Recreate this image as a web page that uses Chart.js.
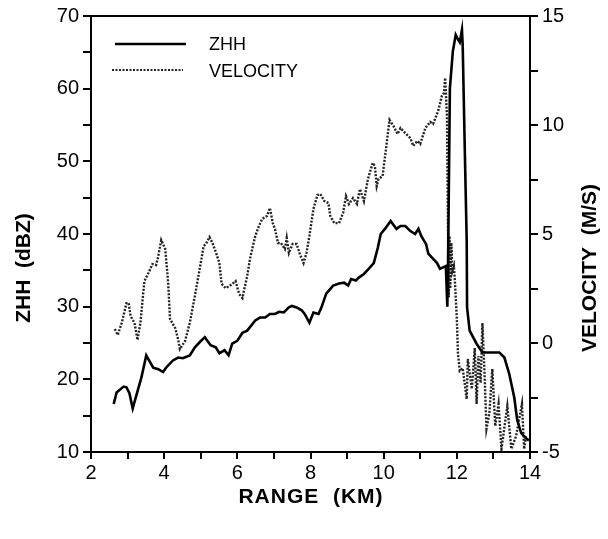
<!DOCTYPE html>
<html>
<head>
<meta charset="utf-8">
<script src="https://cdn.jsdelivr.net/npm/chart.js@4"></script>
<style>
  html, body { margin: 0; padding: 0; background: #fff; }
  #wrap { width: 608px; height: 539px; }
</style>
</head>
<body>
<div id="wrap"><canvas id="radarChart" width="608" height="539"></canvas></div>
<script>
// ZHH reflectivity (dBZ) vs range (km)
const zhhRange = [2.62, 2.70, 2.89, 2.97, 3.05, 3.14, 3.24, 3.38, 3.51, 3.70, 3.84, 3.97, 4.05, 4.24, 4.38, 4.51, 4.70, 4.84, 4.97, 5.11, 5.27, 5.41, 5.51, 5.65, 5.76, 5.86, 6.00, 6.14, 6.27, 6.49, 6.62, 6.76, 6.89, 7.03, 7.14, 7.27, 7.41, 7.49, 7.62, 7.76, 7.84, 7.97, 8.08, 8.22, 8.30, 8.43, 8.62, 8.78, 8.92, 9.03, 9.11, 9.24, 9.32, 9.46, 9.59, 9.73, 9.84, 9.92, 10.05, 10.19, 10.35, 10.46, 10.59, 10.73, 10.86, 10.95, 11.03, 11.16, 11.22, 11.46, 11.54, 11.70, 11.74, 11.76, 11.81, 11.89, 11.97, 12.03, 12.08, 12.14, 12.16, 12.22, 12.27, 12.28, 12.35, 12.54, 12.70, 12.97, 13.16, 13.30, 13.43, 13.57, 13.65, 13.76, 13.89, 13.97];
const zhh = [16.6, 18.2, 19.0, 18.9, 18.1, 16.0, 17.8, 20.3, 23.3, 21.6, 21.4, 21.0, 21.6, 22.6, 23.0, 22.9, 23.3, 24.4, 25.1, 25.8, 24.7, 24.4, 23.6, 24.0, 23.3, 24.9, 25.3, 26.4, 26.7, 28.1, 28.5, 28.5, 29.0, 29.0, 29.3, 29.2, 29.9, 30.1, 29.9, 29.5, 29.0, 27.8, 29.2, 29.0, 29.9, 31.8, 32.9, 33.2, 33.3, 32.9, 33.8, 33.6, 34.0, 34.5, 35.2, 36.0, 38.1, 40.0, 40.8, 41.8, 40.7, 41.1, 41.1, 40.4, 40.0, 40.7, 39.7, 38.6, 37.3, 36.0, 35.2, 35.6, 30.0, 36.0, 60.0, 65.1, 67.4, 66.8, 66.4, 68.1, 66.0, 51.0, 39.0, 29.9, 26.7, 24.9, 23.7, 23.7, 23.7, 23.0, 20.8, 17.5, 14.4, 12.6, 11.9, 11.6];

// Radial velocity (m/s) vs range (km)
const velRange = [2.65, 2.73, 2.84, 2.97, 3.03, 3.08, 3.19, 3.27, 3.35, 3.46, 3.57, 3.68, 3.78, 3.84, 3.92, 4.03, 4.11, 4.16, 4.30, 4.38, 4.43, 4.57, 4.70, 4.84, 4.97, 5.08, 5.14, 5.24, 5.32, 5.43, 5.51, 5.57, 5.68, 5.78, 5.86, 5.95, 6.05, 6.14, 6.19, 6.27, 6.35, 6.49, 6.59, 6.68, 6.81, 6.89, 6.97, 7.03, 7.11, 7.19, 7.30, 7.35, 7.41, 7.51, 7.62, 7.70, 7.81, 7.89, 7.97, 8.08, 8.19, 8.27, 8.38, 8.49, 8.54, 8.65, 8.78, 8.89, 8.97, 9.05, 9.16, 9.27, 9.35, 9.46, 9.57, 9.70, 9.76, 9.81, 9.86, 9.97, 10.05, 10.16, 10.27, 10.38, 10.46, 10.59, 10.73, 10.81, 10.92, 11.00, 11.14, 11.27, 11.35, 11.49, 11.59, 11.65, 11.68, 11.73, 11.76, 11.78, 11.80, 11.82, 11.85, 11.88, 11.92, 11.95, 12.00, 12.03, 12.08, 12.16, 12.27, 12.30, 12.41, 12.49, 12.54, 12.59, 12.65, 12.70, 12.76, 12.81, 12.89, 12.97, 13.05, 13.14, 13.22, 13.38, 13.49, 13.62, 13.78, 13.84, 13.89];
const velocity = [0.64, 0.37, 0.92, 1.83, 1.83, 1.24, 0.92, 0.14, 0.92, 2.84, 3.21, 3.62, 3.58, 4.00, 4.72, 4.31, 2.75, 1.10, 0.69, 0.18, -0.28, 0.09, 0.92, 2.16, 3.39, 4.45, 4.54, 4.86, 4.59, 4.08, 3.67, 2.71, 2.52, 2.61, 2.71, 2.84, 2.25, 2.06, 2.48, 3.07, 3.90, 4.91, 5.37, 5.69, 5.83, 6.19, 5.50, 5.23, 4.59, 4.59, 4.31, 4.82, 4.13, 4.54, 4.54, 4.13, 3.67, 4.13, 4.91, 6.15, 6.79, 6.83, 6.51, 6.42, 5.83, 5.50, 5.50, 5.96, 6.74, 6.38, 6.65, 6.38, 7.06, 6.51, 7.52, 8.26, 8.12, 7.20, 7.52, 7.66, 8.72, 10.23, 9.95, 9.59, 9.86, 9.63, 9.40, 9.04, 9.27, 9.13, 9.86, 10.14, 10.05, 10.64, 11.33, 11.47, 12.16, 10.41, 5.05, 2.10, 4.90, 2.50, 4.60, 3.30, 3.53, 2.75, 1.10, -0.46, -1.28, -1.15, -2.57, -0.73, -2.11, -0.23, -2.80, -0.60, -1.83, 0.92, -1.51, -3.94, -3.21, -1.19, -3.81, -2.80, -4.86, -2.89, -4.86, -4.27, -2.80, -4.86, -4.27];

const xTicks = [2, 4, 6, 8, 10, 12, 14];
const zhhTicks = [10, 20, 30, 40, 50, 60, 70];
const velTicks = [-5, 0, 5, 10, 15];

const tickFont = { family: "Liberation Sans, Arial, sans-serif", size: 20 };
const titleFont = "bold 21px 'Liberation Sans', Arial, sans-serif";

function toPoints(xs, ys) {
    return xs.map((x, i) => ({ x, y: ys[i] }));
}

// frame, axis titles and the in-plot legend
const decorations = {
    id: "decorations",
    afterDraw(chart) {
        const { ctx, chartArea } = chart;
        ctx.save();
        ctx.strokeStyle = "#000";
        ctx.lineWidth = 2;
        ctx.strokeRect(chartArea.left, chartArea.top, chartArea.right - chartArea.left, chartArea.bottom - chartArea.top);

        ctx.fillStyle = "#000";
        ctx.font = titleFont;
        ctx.textAlign = "center";
        ctx.textBaseline = "middle";
        ctx.letterSpacing = "1px";
        ctx.fillText("RANGE  (KM)", 311, 497);
        ctx.letterSpacing = "0px";

        ctx.save();
        ctx.translate(24, 268);
        ctx.rotate(-Math.PI / 2);
        ctx.fillText("ZHH  (dBZ)", 0, 0);
        ctx.restore();

        ctx.save();
        ctx.translate(590, 268);
        ctx.rotate(-Math.PI / 2);
        ctx.fillText("VELOCITY  (M/S)", 0, 0);
        ctx.restore();

        ctx.font = "18px 'Liberation Sans', Arial, sans-serif";
        ctx.textAlign = "left";
        ctx.lineWidth = 2.5;
        ctx.beginPath();
        ctx.moveTo(115, 44);
        ctx.lineTo(186, 44);
        ctx.stroke();
        ctx.fillText("ZHH", 209, 45);

        ctx.strokeStyle = "#222";
        ctx.lineWidth = 2.2;
        ctx.setLineDash([2, 1.5]);
        ctx.beginPath();
        ctx.moveTo(112, 70);
        ctx.lineTo(183, 70);
        ctx.stroke();
        ctx.setLineDash([]);
        ctx.fillText("VELOCITY", 209, 72);
        ctx.restore();
    },
};

new Chart(document.getElementById("radarChart"), {
    type: "line",
    data: {
        datasets: [
            {
                label: "ZHH",
                data: toPoints(zhhRange, zhh),
                yAxisID: "y",
                borderColor: "#000",
                borderWidth: 2.6,
                pointRadius: 0,
                tension: 0,
            },
            {
                label: "VELOCITY",
                data: toPoints(velRange, velocity),
                yAxisID: "y1",
                borderColor: "#222",
                borderWidth: 2.4,
                borderDash: [2, 1.5],
                pointRadius: 0,
                tension: 0,
            },
        ],
    },
    options: {
        responsive: false,
        animation: false,
        layout: { padding: { top: 16, left: 0, right: 0, bottom: 0 } },
        plugins: {
            legend: { display: false },
            tooltip: { enabled: false },
        },
        scales: {
            x: {
                type: "linear",
                min: 2,
                max: 14,
                afterFit: (scale) => { scale.height = 87; },
                ticks: {
                    stepSize: 1,
                    autoSkip: false,
                    maxRotation: 0,
                    color: "#000",
                    font: tickFont,
                    padding: 2,
                    callback: (v) => (xTicks.includes(v) ? String(v) : ""),
                },
                grid: { drawOnChartArea: false, color: "#000", tickLength: 7, lineWidth: 2 },
                border: { color: "#000", width: 2 },
            },
            y: {
                position: "left",
                min: 10,
                max: 70,
                afterFit: (scale) => { scale.width = 91; },
                ticks: {
                    stepSize: 5,
                    autoSkip: false,
                    color: "#000",
                    font: tickFont,
                    padding: 4,
                    callback: (v) => (zhhTicks.includes(v) ? String(v) : ""),
                },
                grid: { drawOnChartArea: false, color: "#000", tickLength: 8, lineWidth: 2 },
                border: { color: "#000", width: 2 },
            },
            y1: {
                position: "right",
                min: -5,
                max: 15,
                afterFit: (scale) => { scale.width = 78; },
                ticks: {
                    stepSize: 2.5,
                    autoSkip: false,
                    color: "#000",
                    font: tickFont,
                    padding: 4,
                    callback: (v) => (velTicks.includes(v) ? String(v) : ""),
                },
                grid: { drawOnChartArea: false, color: "#000", tickLength: 8, lineWidth: 2 },
                border: { color: "#000", width: 2 },
            },
        },
    },
    plugins: [decorations],
});
</script>
</body>
</html>
